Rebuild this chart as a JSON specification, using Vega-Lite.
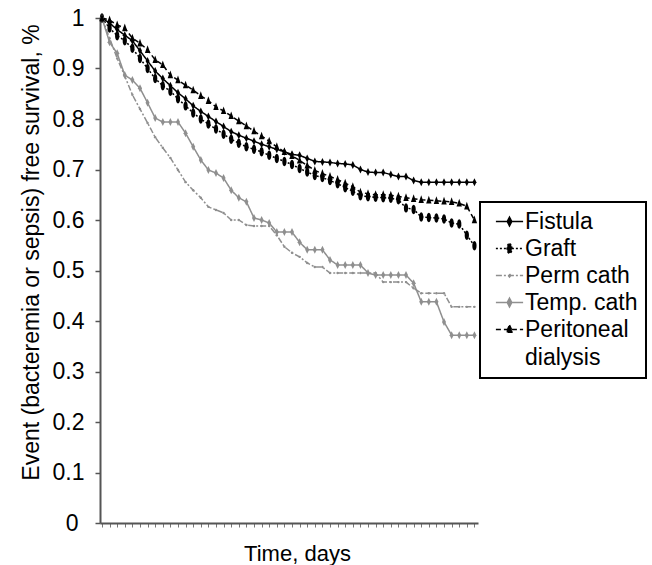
{
  "$schema": "https://vega.github.io/schema/vega-lite/v6.json",
  "width": 378,
  "height": 505,
  "autosize": {"type": "none"},
  "padding": {"left": 100, "top": 18, "right": 174, "bottom": 42},
  "background": "white",
  "config": {"view": {"stroke": null}, "font": "Liberation Sans"},
  "data": {"values": [
    {"t": 0, "Fistula": 1, "Graft": 1, "Perm": 1, "Temp": 1, "PD": 1},
    {"t": 1, "Fistula": 0.99, "Graft": 0.98, "Perm": 0.96, "Temp": 0.952, "PD": 0.996},
    {"t": 2, "Fistula": 0.977, "Graft": 0.965, "Perm": 0.92, "Temp": 0.93, "PD": 0.986},
    {"t": 3, "Fistula": 0.966, "Graft": 0.955, "Perm": 0.885, "Temp": 0.887, "PD": 0.98},
    {"t": 4, "Fistula": 0.955, "Graft": 0.94, "Perm": 0.848, "Temp": 0.877, "PD": 0.96},
    {"t": 5, "Fistula": 0.935, "Graft": 0.92, "Perm": 0.82, "Temp": 0.861, "PD": 0.95},
    {"t": 6, "Fistula": 0.915, "Graft": 0.9, "Perm": 0.792, "Temp": 0.832, "PD": 0.937},
    {"t": 7, "Fistula": 0.895, "Graft": 0.88, "Perm": 0.764, "Temp": 0.802, "PD": 0.917},
    {"t": 8, "Fistula": 0.88, "Graft": 0.866, "Perm": 0.743, "Temp": 0.794, "PD": 0.907},
    {"t": 9, "Fistula": 0.866, "Graft": 0.855, "Perm": 0.723, "Temp": 0.794, "PD": 0.887},
    {"t": 10, "Fistula": 0.852, "Graft": 0.84, "Perm": 0.699, "Temp": 0.794, "PD": 0.877},
    {"t": 11, "Fistula": 0.84, "Graft": 0.826, "Perm": 0.675, "Temp": 0.772, "PD": 0.867},
    {"t": 12, "Fistula": 0.826, "Graft": 0.812, "Perm": 0.659, "Temp": 0.745, "PD": 0.857},
    {"t": 13, "Fistula": 0.815, "Graft": 0.8, "Perm": 0.644, "Temp": 0.719, "PD": 0.846},
    {"t": 14, "Fistula": 0.805, "Graft": 0.79, "Perm": 0.626, "Temp": 0.699, "PD": 0.836},
    {"t": 15, "Fistula": 0.795, "Graft": 0.78, "Perm": 0.62, "Temp": 0.693, "PD": 0.824},
    {"t": 16, "Fistula": 0.785, "Graft": 0.77, "Perm": 0.614, "Temp": 0.683, "PD": 0.816},
    {"t": 17, "Fistula": 0.775, "Graft": 0.76, "Perm": 0.6, "Temp": 0.659, "PD": 0.806},
    {"t": 18, "Fistula": 0.768, "Graft": 0.752, "Perm": 0.6, "Temp": 0.644, "PD": 0.796},
    {"t": 19, "Fistula": 0.762, "Graft": 0.745, "Perm": 0.59, "Temp": 0.636, "PD": 0.786},
    {"t": 20, "Fistula": 0.756, "Graft": 0.74, "Perm": 0.588, "Temp": 0.604, "PD": 0.776},
    {"t": 21, "Fistula": 0.75, "Graft": 0.735, "Perm": 0.588, "Temp": 0.6, "PD": 0.766},
    {"t": 22, "Fistula": 0.745, "Graft": 0.728, "Perm": 0.588, "Temp": 0.594, "PD": 0.756},
    {"t": 23, "Fistula": 0.74, "Graft": 0.722, "Perm": 0.57, "Temp": 0.576, "PD": 0.745},
    {"t": 24, "Fistula": 0.735, "Graft": 0.716, "Perm": 0.547, "Temp": 0.576, "PD": 0.735},
    {"t": 25, "Fistula": 0.73, "Graft": 0.71, "Perm": 0.535, "Temp": 0.576, "PD": 0.727},
    {"t": 26, "Fistula": 0.728, "Graft": 0.702, "Perm": 0.527, "Temp": 0.556, "PD": 0.718},
    {"t": 27, "Fistula": 0.722, "Graft": 0.695, "Perm": 0.515, "Temp": 0.541, "PD": 0.708},
    {"t": 28, "Fistula": 0.716, "Graft": 0.688, "Perm": 0.507, "Temp": 0.541, "PD": 0.698},
    {"t": 29, "Fistula": 0.715, "Graft": 0.684, "Perm": 0.507, "Temp": 0.541, "PD": 0.692},
    {"t": 30, "Fistula": 0.714, "Graft": 0.678, "Perm": 0.495, "Temp": 0.521, "PD": 0.686},
    {"t": 31, "Fistula": 0.712, "Graft": 0.672, "Perm": 0.495, "Temp": 0.511, "PD": 0.68},
    {"t": 32, "Fistula": 0.711, "Graft": 0.664, "Perm": 0.495, "Temp": 0.511, "PD": 0.673},
    {"t": 33, "Fistula": 0.709, "Graft": 0.657, "Perm": 0.495, "Temp": 0.511, "PD": 0.666},
    {"t": 34, "Fistula": 0.7, "Graft": 0.648, "Perm": 0.495, "Temp": 0.511, "PD": 0.655},
    {"t": 35, "Fistula": 0.695, "Graft": 0.646, "Perm": 0.495, "Temp": 0.495, "PD": 0.652},
    {"t": 36, "Fistula": 0.694, "Graft": 0.645, "Perm": 0.495, "Temp": 0.491, "PD": 0.65},
    {"t": 37, "Fistula": 0.694, "Graft": 0.644, "Perm": 0.477, "Temp": 0.491, "PD": 0.65},
    {"t": 38, "Fistula": 0.69, "Graft": 0.643, "Perm": 0.477, "Temp": 0.491, "PD": 0.649},
    {"t": 39, "Fistula": 0.686, "Graft": 0.64, "Perm": 0.477, "Temp": 0.491, "PD": 0.647},
    {"t": 40, "Fistula": 0.686, "Graft": 0.624, "Perm": 0.477, "Temp": 0.491, "PD": 0.644},
    {"t": 41, "Fistula": 0.678, "Graft": 0.621, "Perm": 0.465, "Temp": 0.475, "PD": 0.642},
    {"t": 42, "Fistula": 0.675, "Graft": 0.606, "Perm": 0.455, "Temp": 0.438, "PD": 0.64},
    {"t": 43, "Fistula": 0.675, "Graft": 0.605, "Perm": 0.455, "Temp": 0.438, "PD": 0.639},
    {"t": 44, "Fistula": 0.675, "Graft": 0.604, "Perm": 0.455, "Temp": 0.438, "PD": 0.638},
    {"t": 45, "Fistula": 0.675, "Graft": 0.602, "Perm": 0.455, "Temp": 0.398, "PD": 0.637},
    {"t": 46, "Fistula": 0.675, "Graft": 0.594, "Perm": 0.428, "Temp": 0.372, "PD": 0.636},
    {"t": 47, "Fistula": 0.675, "Graft": 0.592, "Perm": 0.428, "Temp": 0.372, "PD": 0.633},
    {"t": 48, "Fistula": 0.675, "Graft": 0.57, "Perm": 0.428, "Temp": 0.372, "PD": 0.627},
    {"t": 49, "Fistula": 0.675, "Graft": 0.549, "Perm": 0.428, "Temp": 0.372, "PD": 0.6}
  ]},
  "transform": [{"fold": ["Fistula", "Graft", "Perm", "Temp", "PD"], "as": ["series", "v"]}],
  "encoding": {
    "x": {
      "field": "t", "type": "quantitative",
      "scale": {"domain": [-0.26, 49.47], "nice": false, "zero": false},
      "axis": {
        "tickCount": 50, "labels": false, "tickSize": 4, "tickColor": "#777", "tickWidth": 1,
        "domainColor": "#555", "domainWidth": 2, "grid": false,
        "title": "Time, days", "titleFontSize": 22, "titleFontWeight": "normal", "titleColor": "black",
        "titleX": 197, "titleY": 37, "titleBaseline": "alphabetic", "titleAlign": "center"
      }
    },
    "y": {
      "field": "v", "type": "quantitative",
      "scale": {"domain": [0, 1], "nice": false},
      "axis": {
        "values": [0, 0.1, 0.2, 0.3, 0.4, 0.5, 0.6, 0.7, 0.8, 0.9, 1],
        "labelExpr": "datum.value == 0 ? '0' : datum.value == 1 ? '1' : format(datum.value, '.1f')",
        "labelFontSize": 23, "labelColor": "black",
        "labelPadding": {"condition": [{"test": "datum.value == 0", "value": 17}], "value": 11},
        "tickSize": 5, "tickColor": "#555", "tickWidth": 1.5,
        "domainColor": "#555", "domainWidth": 2, "grid": false,
        "title": "Event (bacteremia or sepsis) free survival, %", "titleFontSize": 23, "titleFontWeight": "normal", "titleColor": "black",
        "titleX": -62, "titleY": 234, "titleAngle": -90, "titleBaseline": "alphabetic", "titleAlign": "center"
      }
    },
    "color": {
      "field": "series", "type": "nominal",
      "scale": {"domain": ["Fistula", "Graft", "Perm", "Temp", "PD"], "range": ["black", "black", "#8f8f8f", "#8f8f8f", "black"]},
      "legend": {
        "orient": "none", "legendX": 380, "legendY": 184, "title": null,
        "symbolSize": 256, "symbolOffset": 10, "labelOffset": 4,
        "labelFontSize": 23, "labelColor": "black", "labelLimit": 200,
        "padding": 8, "rowPadding": 3, "strokeColor": "black",
        "labelExpr": "datum.value == 'Perm' ? 'Perm cath' : datum.value == 'Temp' ? 'Temp. cath' : datum.value == 'PD' ? ['Peritoneal', 'dialysis'] : datum.value",
        "encode": {
          "symbols": {"update": {
            "shape": {"signal": "datum.value == 'Graft' ? 'M-1.7,0L1.7,0M0,-0.6C0.4,-0.6 0.4,0.6 0,0.6C-0.4,0.6 -0.4,-0.6 0,-0.6Z' : datum.value == 'Perm' ? 'M-1.7,0L1.7,0M0,-0.2L0.15,0L0,0.2L-0.15,0Z' : datum.value == 'PD' ? 'M-1.7,0L1.7,0M0,-0.55L0.4,0.35L-0.4,0.35Z' : 'M-1.7,0L1.7,0M0,-0.55L0.28,0L0,0.55L-0.28,0Z'"},
            "stroke": {"signal": "datum.value == 'Perm' || datum.value == 'Temp' ? '#8f8f8f' : 'black'"},
            "fill": {"signal": "datum.value == 'Perm' || datum.value == 'Temp' ? '#8f8f8f' : 'black'"},
            "strokeDash": {"signal": "datum.value == 'Graft' ? [2, 2] : datum.value == 'Perm' ? [5, 2, 2, 2] : datum.value == 'PD' ? [4, 3] : [1, 0]"},
            "strokeWidth": {"value": 1.5},
            "size": {"value": 256},
            "opacity": {"value": 1}
          }},
          "labels": {"update": {"lineHeight": {"value": 28}}},
          "legend": {"update": {"strokeWidth": {"value": 2}}}
        }
      }
    }
  },
  "layer": [
    {
      "mark": {"type": "line", "strokeWidth": 1.5},
      "encoding": {
        "strokeDash": {
          "field": "series", "type": "nominal",
          "scale": {"domain": ["Fistula", "Graft", "Perm", "Temp", "PD"], "range": [[1, 0], [2, 2], [6, 2, 2, 2], [1, 0], [5, 3]]},
          "legend": null
        }
      }
    },
    {
      "transform": [{"filter": "datum.series == 'Fistula'"}],
      "mark": {"type": "point", "filled": true, "opacity": 1, "shape": "M0,-1L0.5,0L0,1L-0.5,0Z", "size": 64}
    },
    {
      "transform": [{"filter": "datum.series == 'Graft'"}],
      "mark": {"type": "point", "filled": true, "opacity": 1, "shape": "M0,-1C0.6,-1 0.6,1 0,1C-0.6,1 -0.6,-1 0,-1Z", "size": 90}
    },
    {
      "transform": [{"filter": "datum.series == 'Perm'"}],
      "mark": {"type": "point", "filled": true, "opacity": 1, "shape": "circle", "size": 6}
    },
    {
      "transform": [{"filter": "datum.series == 'Temp'"}],
      "mark": {"type": "point", "filled": true, "opacity": 1, "shape": "M0,-1L0.5,0L0,1L-0.5,0Z", "size": 64}
    },
    {
      "transform": [{"filter": "datum.series == 'PD'"}],
      "mark": {"type": "point", "filled": true, "opacity": 1, "shape": "M0,-1L0.6,0.7L-0.6,0.7Z", "size": 81}
    }
  ]
}
